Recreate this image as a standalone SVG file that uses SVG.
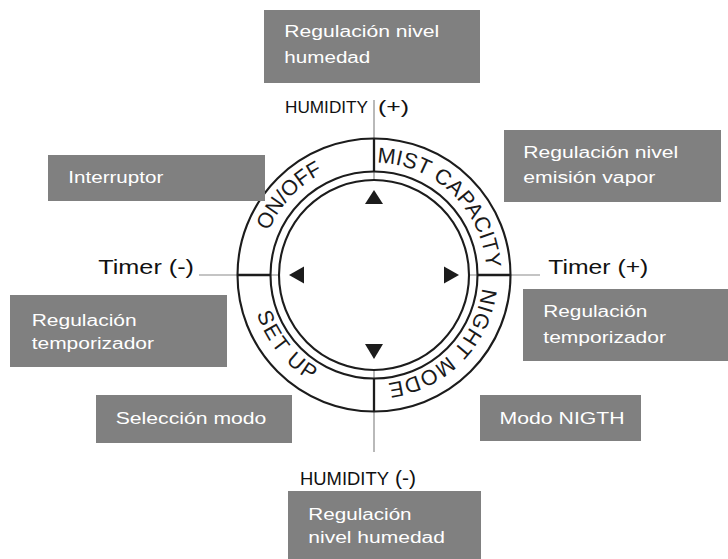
<svg xmlns="http://www.w3.org/2000/svg" width="728" height="559" viewBox="0 0 728 559">
<style>
.box{fill:#808080}
.bt{font-family:"Liberation Sans",Arial,sans-serif;font-size:17.3px;fill:#ffffff}
.lt{font-family:"Liberation Sans",Arial,sans-serif;fill:#111111}
.arc{font-family:"Liberation Sans",Arial,sans-serif;font-size:21.5px;fill:#1a1a1a}
.ring{fill:none;stroke:#1c1c1c;stroke-width:2.1}
.thin{stroke:#8a8a8a;stroke-width:1.2;fill:none}
.thick{stroke:#1c1c1c;stroke-width:2.3;fill:none}
.tri{fill:#1c1c1c}
</style>
<defs>
<path id="pMist" d="M343.0,166.85 A112.5,112.5 0 0 1 483.16,302.21"/>
<path id="pOn" d="M264.98,308.33 A114,114 0 0 1 399.65,163.92"/>
<path id="pNight" d="M479.29,246.79 A109,109 0 0 1 345.79,380.29"/>
<path id="pSet" d="M258.51,231.24 A123.5,123.5 0 0 0 393.85,396.90"/>
</defs>
<rect width="728" height="559" fill="#ffffff"/>

<g id="connectors">
<line class="thin" x1="374" y1="100" x2="374" y2="180"/>
<line class="thin" x1="374" y1="370" x2="374" y2="452"/>
<line class="thin" x1="199" y1="275" x2="279" y2="275"/>
<line class="thin" x1="469" y1="275" x2="540" y2="275"/>
<line class="thick" x1="374" y1="138.5" x2="374" y2="172"/>
<line class="thick" x1="374" y1="378" x2="374" y2="411.5"/>
<line class="thick" x1="237.5" y1="275" x2="271" y2="275"/>
<line class="thick" x1="477" y1="275" x2="510.5" y2="275"/>
</g>

<g id="dial">
<circle class="ring" cx="374" cy="275" r="136.5"/>
<circle class="ring" cx="374" cy="275" r="103.5"/>
<circle class="ring" cx="374" cy="275" r="95"/>
<polygon class="tri" points="374,190 365,204 383,204"/>
<polygon class="tri" points="365,344 383,344 374,359"/>
<polygon class="tri" points="289,275 304,266.5 304,283.5"/>
<polygon class="tri" points="459,275 444,266.5 444,283.5"/>
<text class="arc" letter-spacing="0.3"><textPath href="#pMist" startOffset="50%" text-anchor="middle">MIST CAPACITY</textPath></text>
<text class="arc"><textPath href="#pOn" startOffset="50%" text-anchor="middle">ON/OFF</textPath></text>
<text class="arc" letter-spacing="0.8"><textPath href="#pNight" startOffset="50%" text-anchor="middle">NIGHT MODE</textPath></text>
<text class="arc" letter-spacing="2.2"><textPath href="#pSet" startOffset="50%" text-anchor="middle">SET UP</textPath></text>
</g>

<g id="humidity-plus">
<text class="lt" x="285" y="113" font-size="17" textLength="83" lengthAdjust="spacingAndGlyphs">HUMIDITY</text>
<text class="lt" x="378" y="113" font-size="19" textLength="31" lengthAdjust="spacingAndGlyphs">(+)</text>
</g>
<g id="humidity-minus">
<text class="lt" x="300" y="485" font-size="18.5" textLength="89" lengthAdjust="spacingAndGlyphs">HUMIDITY</text>
<text class="lt" x="395" y="485" font-size="19.5" textLength="21" lengthAdjust="spacingAndGlyphs">(-)</text>
</g>
<g id="timer-minus">
<text class="lt" x="98.3" y="273.5" font-size="21" textLength="95.7" lengthAdjust="spacingAndGlyphs">Timer (-)</text>
</g>
<g id="timer-plus">
<text class="lt" x="548.3" y="274" font-size="21" textLength="100" lengthAdjust="spacingAndGlyphs">Timer (+)</text>
</g>

<g id="box-humedad-top">
<rect class="box" x="264" y="10" width="216" height="73"/>
<text class="bt" x="284.3" y="37.3" textLength="155" lengthAdjust="spacingAndGlyphs">Regulación nivel</text>
<text class="bt" x="284.3" y="63.3" textLength="86" lengthAdjust="spacingAndGlyphs">humedad</text>
</g>
<g id="box-interruptor">
<rect class="box" x="48" y="155" width="217" height="46"/>
<text class="bt" x="68.3" y="183.3" textLength="95" lengthAdjust="spacingAndGlyphs">Interruptor</text>
</g>
<g id="box-vapor">
<rect class="box" x="504" y="130" width="217" height="72"/>
<text class="bt" x="523.3" y="157.5" textLength="155" lengthAdjust="spacingAndGlyphs">Regulación nivel</text>
<text class="bt" x="523.3" y="183.3" textLength="132" lengthAdjust="spacingAndGlyphs">emisión vapor</text>
</g>
<g id="box-temp-left">
<rect class="box" x="10" y="295" width="217" height="72"/>
<text class="bt" x="31.7" y="325.7" textLength="105" lengthAdjust="spacingAndGlyphs">Regulación</text>
<text class="bt" x="31.7" y="349.3" textLength="122.3" lengthAdjust="spacingAndGlyphs">temporizador</text>
</g>
<g id="box-temp-right">
<rect class="box" x="523" y="289" width="205" height="72"/>
<text class="bt" x="543.3" y="317" textLength="104" lengthAdjust="spacingAndGlyphs">Regulación</text>
<text class="bt" x="543.3" y="343" textLength="122.7" lengthAdjust="spacingAndGlyphs">temporizador</text>
</g>
<g id="box-seleccion">
<rect class="box" x="96" y="395" width="196" height="48"/>
<text class="bt" x="115.7" y="424" textLength="150.7" lengthAdjust="spacingAndGlyphs">Selección modo</text>
</g>
<g id="box-night">
<rect class="box" x="480" y="395" width="161" height="46"/>
<text class="bt" x="499.6" y="424" textLength="125" lengthAdjust="spacingAndGlyphs">Modo NIGTH</text>
</g>
<g id="box-humedad-bottom">
<rect class="box" x="288" y="491" width="193" height="68"/>
<text class="bt" x="308.3" y="520" textLength="103.3" lengthAdjust="spacingAndGlyphs">Regulación</text>
<text class="bt" x="308.3" y="542.5" textLength="136.7" lengthAdjust="spacingAndGlyphs">nivel humedad</text>
</g>
</svg>
